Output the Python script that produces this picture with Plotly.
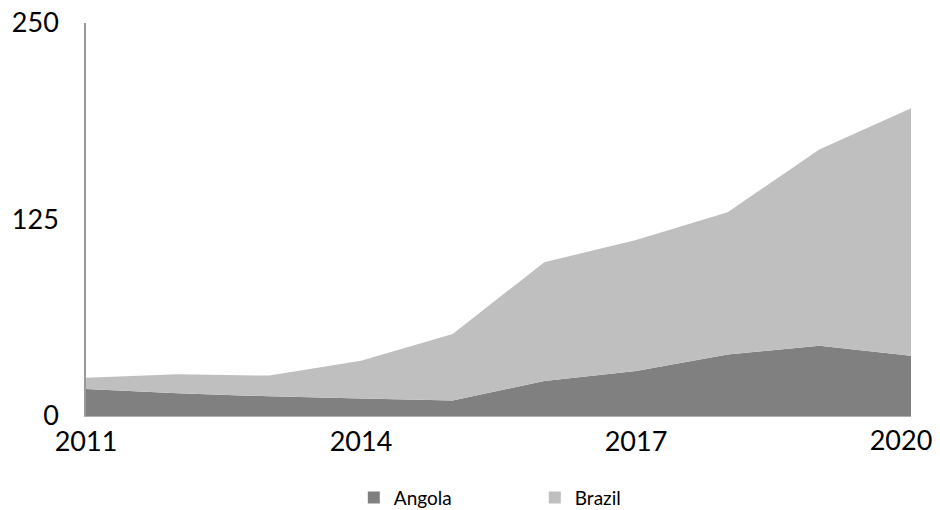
import plotly.graph_objects as go

years = [2011, 2012, 2013, 2014, 2015, 2016, 2017, 2018, 2019, 2020]
angola = [17.2, 14.4, 12.5, 11.2, 9.8, 22.3, 28.6, 39.2, 44.7, 38.4]
brazil = [7.2, 12.1, 13.2, 24.0, 42.4, 75.5, 83.4, 90.4, 124.9, 157.3]
x_ticks_main = [2011, 2014, 2017]
x_ticks_end = [2020]
y_ticks = [0, 125, 250]

col_angola = "#808080"
col_brazil = "#bfbfbf"
font_family = "Lato, 'Open Sans', sans-serif"

fig = go.Figure()
fig.add_trace(go.Scatter(x=years, y=angola, stackgroup="one", mode="none",
                         fillcolor=col_angola, name="Angola", showlegend=False,
                         hoverinfo="x+y"))
fig.add_trace(go.Scatter(x=years, y=brazil, stackgroup="one", mode="none",
                         fillcolor=col_brazil, name="Brazil", showlegend=False,
                         hoverinfo="x+y"))
# legend entries (square swatches)
for name, col in [("Angola", col_angola), ("Brazil", col_brazil)]:
    fig.add_trace(go.Scatter(x=[None], y=[None], mode="markers", name=name,
                             marker=dict(symbol="square", size=11, color=col)))
# empty trace so the overlaying axis carrying the last tick label is drawn
fig.add_trace(go.Scatter(x=x_ticks_end, y=[None], xaxis="x2", mode="markers",
                         showlegend=False, hoverinfo="skip"))

x_range = [years[0], years[-1]]
common_x = dict(range=x_range, showgrid=False, zeroline=False, ticks="",
                tickfont=dict(size=27), automargin=False, ticklabeloverflow="allow")

fig.update_layout(
    width=940, height=510,
    margin=dict(l=86, r=29, t=23, b=94, autoexpand=False),
    paper_bgcolor="white", plot_bgcolor="white",
    font=dict(family=font_family, color="#000000"),
    showlegend=True,
    legend=dict(orientation="h", x=0.544, xanchor="center", y=-0.208, yanchor="middle",
                font=dict(size=19, family=font_family),
                entrywidth=136, entrywidthmode="pixels",
                traceorder="normal", itemsizing="constant"),
    xaxis=dict(tickvals=x_ticks_main, ticktext=[str(v) for v in x_ticks_main],
               showline=True, linecolor="#b0b0b0", linewidth=1,
               ticklabelstandoff=2, **common_x),
    xaxis2=dict(tickvals=x_ticks_end, ticktext=[str(v) for v in x_ticks_end],
                overlaying="x", side="bottom", anchor="y", showline=False,
                ticklabelshift=-10, ticklabelstandoff=6, **common_x),
    yaxis=dict(range=[0, 250], tickvals=y_ticks, ticktext=[str(v) for v in y_ticks],
               showgrid=False, zeroline=False, showline=True, linecolor="#999999",
               linewidth=1.5, ticks="", tickfont=dict(size=27), ticklabelstandoff=20,
               automargin=False, ticklabeloverflow="allow"),
)

fig.write_html("out.html", config={"displayModeBar": False},
               post_script="document.body.style.margin='0';")
